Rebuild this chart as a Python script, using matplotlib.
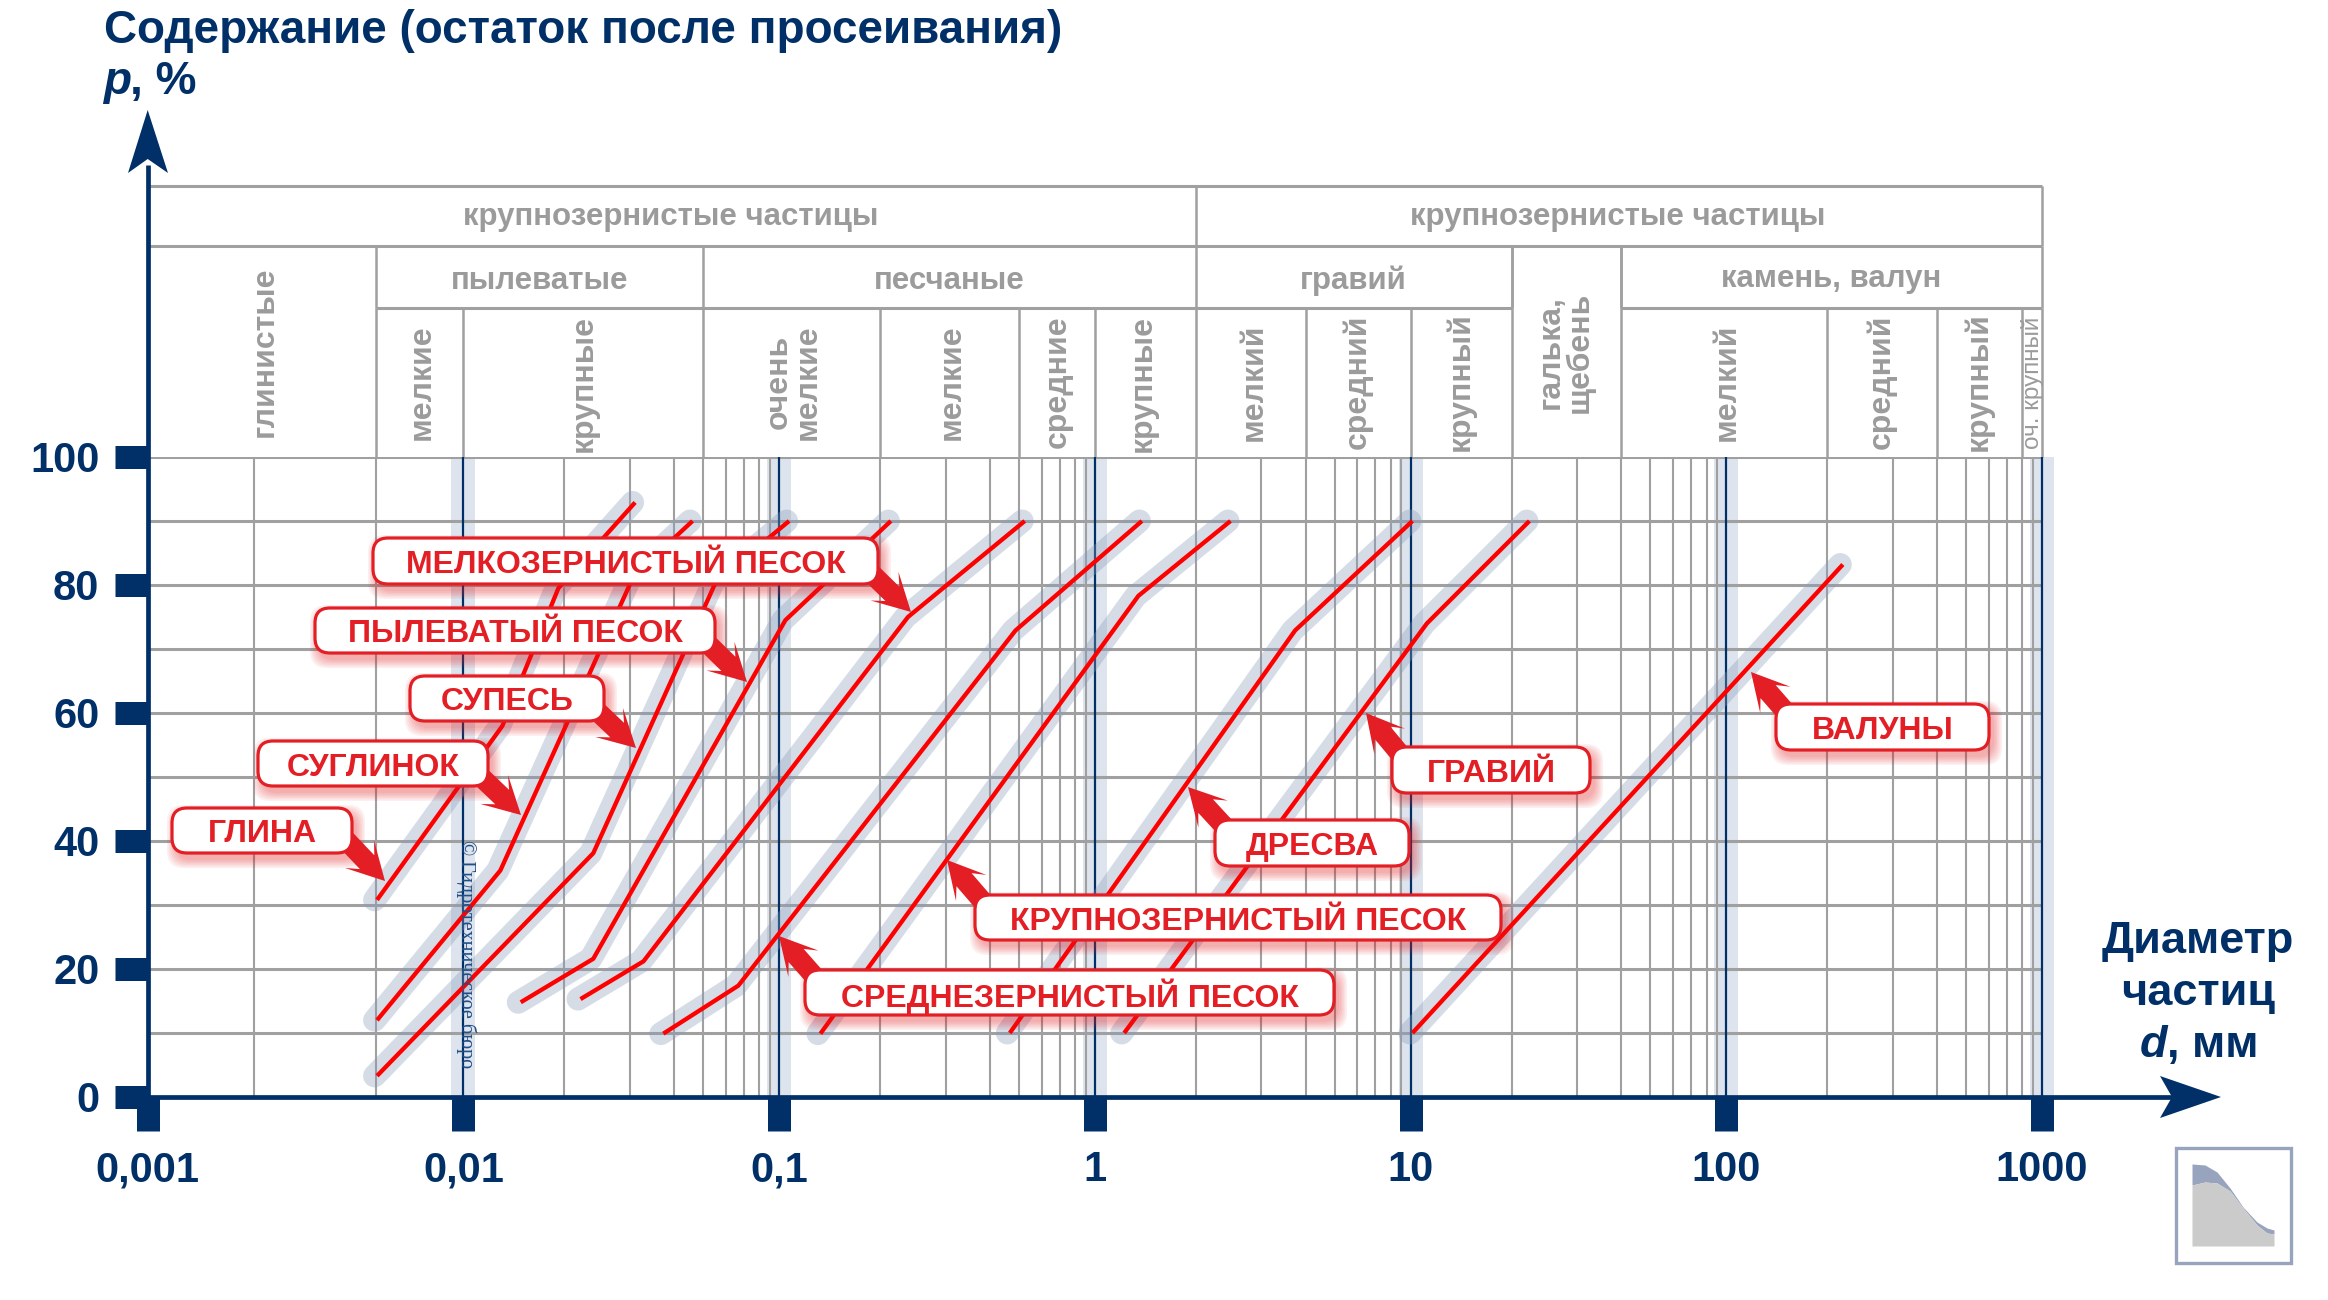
import matplotlib
matplotlib.use("Agg")
import matplotlib.pyplot as plt
import numpy as np
from matplotlib.patches import FancyBboxPatch, Polygon, Rectangle
from matplotlib.transforms import ScaledTranslation

plt.rcParams['font.family'] = ['Liberation Sans', 'DejaVu Sans']

NAVY = '#003067'
GREY = '#a0a0a0'
RED = '#ff0000'
LABEL_RED = '#e31e24'
TEXT_GREY = '#9b9b9b'
W, H = 2328, 1300

# curves: d in mm, p in %
glina_d = [0.00533, 0.0133, 0.0200, 0.0350]
glina_p = [30.8, 58.0, 79.5, 92.9]
suglinok_d = [0.00533, 0.0131, 0.0347, 0.0532]
suglinok_p = [12.0, 35.4, 81.5, 90]
supes_d = [0.00533, 0.0258, 0.0631, 0.1076]
supes_p = [3.3, 38.1, 80.5, 90]
pyl_d = [0.0152, 0.0258, 0.1047, 0.226]
pyl_p = [14.8, 21.6, 74.5, 90]
melk_d = [0.0235, 0.0372, 0.256, 0.600]
melk_p = [15.3, 21.2, 75, 90]
sred_d = [0.0430, 0.0743, 0.561, 1.41]
sred_p = [9.9, 17.4, 72.9, 90]
krup_d = [0.1352, 1.374, 2.69]
krup_p = [9.9, 78.3, 90]
dresva_d = [0.538, 4.31, 10.14]
dresva_p = [10, 72.9, 90]
gravii_d = [1.239, 11.27, 23.8]
gravii_p = [10, 74, 90]
valuny_d = [10.14, 234]
valuny_p = [10, 83.2]

curves = [(glina_d, glina_p), (suglinok_d, suglinok_p), (supes_d, supes_p),
          (pyl_d, pyl_p), (melk_d, melk_p), (sred_d, sred_p), (krup_d, krup_p),
          (dresva_d, dresva_p), (gravii_d, gravii_p), (valuny_d, valuny_p)]

# axis ticks
x_major = [0.001, 0.01, 0.1, 1, 10, 100, 1000]
x_labels = ['0,001', '0,01', '0,1', '1', '10', '100', '1000']
y_major = [0, 20, 40, 60, 80, 100]
y_grid = [10, 20, 30, 40, 50, 60, 70, 80, 90, 100]
first_decade = [0.00217, 0.0053]
mantissas = [2.09, 3.37, 4.65, 5.75, 6.78, 7.74, 8.67, 9.36]
decades = [0.01, 0.1, 1, 10, 100]

# table over the plot, borders in mm and levels in %
level3, level2, level1 = 123.3, 132.9, 142.4
row1_cols = [0.001, 2.09, 1000]
row2_cols = [0.0053, 0.0575, 2.09, 20.9, 46.5, 1000]
row3_cols = [0.0053, 0.01, 0.0575, 0.209, 0.575, 1, 2.09, 4.65, 10, 20.9, 46.5, 209, 465, 867, 1000]

fig = plt.figure(figsize=(W / 100, H / 100), dpi=100, facecolor='white')
ax = fig.add_axes([147.6 / W, (H - 1097) / H, (2042 - 147.6) / W, 640 / H])
ax.set_xscale('log')
ax.set_xlim(0.001, 1000)
ax.set_ylim(0, 100)
for s in ax.spines.values():
    s.set_visible(False)

ax.set_xticks(x_major)
ax.set_xticklabels(x_labels)
ax.set_xticks([], minor=True)
ax.set_yticks(y_major)
ax.tick_params(axis='x', which='major', length=34 * .72, width=23 * .72, color=NAVY,
               labelcolor=NAVY, labelsize=30, pad=14)
ax.tick_params(axis='y', which='major', length=33 * .72, width=23 * .72, color=NAVY,
               labelcolor=NAVY, labelsize=30, pad=11)
for t in ax.get_xticklabels() + ax.get_yticklabels():
    t.set_fontweight('bold')

# light bands behind each decade line
ax.vlines(decades + [1000], 0, 100, color='#dde4ed', lw=24 * .72, zorder=1, clip_on=False)

# grid
grid_x = list(first_decade)
for dec in decades[:-1] + [100]:
    grid_x += [dec * m for m in mantissas]
ax.vlines(grid_x, 0, 100, color=GREY, lw=1.5, zorder=2)
ax.hlines(y_grid, 0.001, 1000, color=GREY, lw=2.2, zorder=2)
ax.vlines(decades + [1000], 0, 100, color=NAVY, lw=1.6, zorder=2.2, clip_on=False)

# table
ax.hlines([level1, level2], 0.001, 1000, color=GREY, lw=2.2, clip_on=False)
ax.hlines(level3, 0.0053, 20.9, color=GREY, lw=2.2, clip_on=False)
ax.hlines(level3, 46.5, 1000, color=GREY, lw=2.2, clip_on=False)
ax.vlines(row1_cols[1:], level2, level1, color=GREY, lw=1.8, clip_on=False)
ax.vlines(row2_cols, level3, level2, color=GREY, lw=1.8, clip_on=False)
ax.vlines(row3_cols, 100, level3, color=GREY, lw=1.8, clip_on=False)
ax.vlines([20.9, 46.5], level3, level2, color=GREY, lw=1.8, clip_on=False)

# curves with a soft halo, shifted a little to the left
shift = ax.transData + ScaledTranslation(-2.5 / 100, 0, fig.dpi_scale_trans)
for d, p in curves:
    ax.plot(d, p, color='#899dba', alpha=.35, lw=23 * .72, solid_capstyle='round',
            solid_joinstyle='round', zorder=3, transform=shift, clip_on=False)
for d, p in curves:
    ax.plot(d, p, color=RED, lw=3.1, solid_capstyle='butt', solid_joinstyle='round', zorder=4, clip_on=False)

# overlay in image pixels for the texts, callouts and arrows
ov = fig.add_axes([0, 0, 1, 1], facecolor='none')
ov.set_xlim(0, W)
ov.set_ylim(H, 0)
ov.axis('off')

# axes with arrows
ov.plot([147.8, 147.8], [1099, 165], color=NAVY, lw=3.4, solid_capstyle='butt')
ov.plot([146, 2175], [1097, 1097], color=NAVY, lw=3.4, solid_capstyle='butt')
ov.add_patch(Polygon([(147.7, 110), (168, 173), (147.7, 159), (128, 173)], color=NAVY, lw=0))
ov.add_patch(Polygon([(2221, 1097), (2160, 1118), (2172, 1097), (2160, 1076)], color=NAVY, lw=0))

ov.text(104, 43, 'Содержание (остаток после просеивания)', color=NAVY, fontsize=33,
        fontweight='bold', va='baseline')
ov.text(103, 94, 'p', color=NAVY, fontsize=33, fontweight='bold', style='italic', va='baseline')
ov.text(130, 94, ', %', color=NAVY, fontsize=33, fontweight='bold', va='baseline')
ov.text(2198, 942, 'Диаметр', color=NAVY, fontsize=32.5, fontweight='bold', ha='center', va='center')
ov.text(2198, 993, 'частиц', color=NAVY, fontsize=32.5, fontweight='bold', ha='center', va='center')
ov.text(2140, 1057, 'd', color=NAVY, fontsize=32.5, fontweight='bold', style='italic', va='baseline')
ov.text(2167, 1057, ', мм', color=NAVY, fontsize=32.5, fontweight='bold', va='baseline')

# table texts
flat = [('крупнозернистые частицы', 671, 217), ('крупнозернистые частицы', 1618, 217),
        ('пылеватые', 540, 281), ('песчаные', 949, 281), ('гравий', 1353, 281),
        ('камень, валун', 1831, 279)]
for s, x, y in flat:
    ov.text(x, y, s, color=TEXT_GREY, fontsize=22.5, fontweight='bold', ha='center', va='center')

upright = [('глинистые', 265, 352), ('мелкие', 422, 382), ('крупные', 584, 383),
           ('очень\nмелкие', 793, 382), ('мелкие', 952, 382), ('средние', 1058, 382),
           ('крупные', 1143, 383), ('мелкий', 1254, 382), ('средний', 1357, 382),
           ('крупный', 1461, 382), ('галька,\nщебень', 1565, 352), ('мелкий', 1727, 382),
           ('средний', 1881, 382), ('крупный', 1978, 382)]
for s, x, y in upright:
    ov.text(x, y, s, color=TEXT_GREY, fontsize=23, fontweight='bold', ha='center', va='center',
            rotation=90, multialignment='center', linespacing=.95)
ov.text(2033, 383, 'оч. крупный', color=TEXT_GREY, fontsize=17.5, ha='center', va='center', rotation=90)

ov.text(476, 840, '© Гидротехническое бюро', color='#1f4e86', fontsize=14.5, family='Liberation Serif',
        rotation=-90, ha='left', va='top', rotation_mode='anchor')


def callout(text, x0, y0, x1, y1, tail, tip):
    tail = np.array(tail, float)
    tip = np.array(tip, float)
    u = (tip - tail) / np.hypot(*(tip - tail))
    n = np.array([-u[1], u[0]])
    pts = [tail + n * 10, tip - u * 26 + n * 10, tip - u * 37 + n * 20, tip,
           tip - u * 37 - n * 20, tip - u * 26 - n * 10, tail - n * 10]
    ov.add_patch(Polygon(pts, color=LABEL_RED, lw=0, zorder=5))
    for i in range(6):
        grow = 1 + i * 1.6
        ov.add_patch(FancyBboxPatch((x0 + 4 - grow, y0 + 6 - grow), x1 - x0 + 2 * grow, y1 - y0 + 2 * grow,
                                    boxstyle='round,pad=0,rounding_size=17', fc=LABEL_RED, ec='none',
                                    alpha=.07, zorder=5.5))
    ov.add_patch(FancyBboxPatch((x0, y0), x1 - x0, y1 - y0, boxstyle='round,pad=0,rounding_size=15',
                                fc='white', ec=LABEL_RED, lw=2.3, zorder=6))
    ov.text((x0 + x1) / 2, (y0 + y1) / 2 + 4, text, color=LABEL_RED, fontsize=23, fontweight='bold',
            ha='center', va='center', zorder=7)


callout('МЕЛКОЗЕРНИСТЫЙ ПЕСОК', 373, 538, 878, 584, (870, 572), (911, 612))
callout('ПЫЛЕВАТЫЙ ПЕСОК', 315, 608, 715, 653, (706, 642), (747, 682))
callout('СУПЕСЬ', 410, 676, 604, 721, (596, 710), (636, 748))
callout('СУГЛИНОК', 258, 741, 488, 786, (478, 774), (521, 815))
callout('ГЛИНА', 172, 808, 352, 853, (346, 840), (385, 881))
callout('СРЕДНЕЗЕРНИСТЫЙ ПЕСОК', 805, 970, 1334, 1015, (815, 977), (779, 936))
callout('КРУПНОЗЕРНИСТЫЙ ПЕСОК', 975, 895, 1501, 940, (985, 904), (947, 860))
callout('ДРЕСВА', 1215, 820, 1409, 866, (1224, 826), (1188, 787))
callout('ГРАВИЙ', 1392, 747, 1590, 793, (1401, 755), (1366, 713))
callout('ВАЛУНЫ', 1776, 704, 1989, 750, (1785, 711), (1751, 672))

# small icon in the corner
icon_x = [2192, 2205, 2217, 2230, 2243, 2257, 2267, 2274]
icon_top = [1164, 1165, 1172, 1188, 1207, 1222, 1228, 1230]
icon_mid = [1185, 1182, 1183, 1191, 1208, 1225, 1233, 1234]
ov.fill_between(icon_x, icon_top, icon_mid, color='#98a3bd', lw=0)
ov.fill_between(icon_x, icon_mid, 1246, color='#cbcbcb', lw=0)
ov.add_patch(Rectangle((2175.5, 1147.5), 115, 115, fc='none', ec='#98a3bd', lw=2.4))

fig.savefig('out.png', dpi=100)
